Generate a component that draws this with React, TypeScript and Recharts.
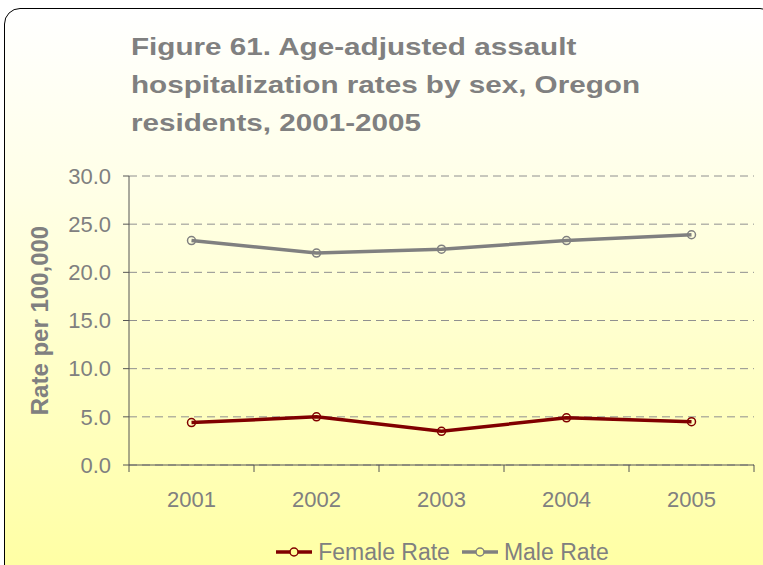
import React from "react";
import {
  CartesianGrid,
  Legend,
  Line,
  LineChart,
  XAxis,
  YAxis,
} from "recharts";

const years = ["2001", "2002", "2003", "2004", "2005"];
const femaleRate = [4.4, 5.0, 3.5, 4.9, 4.5];
const maleRate = [23.3, 22.0, 22.4, 23.3, 23.9];
const yTicks = [0, 5, 10, 15, 20, 25, 30];

const FEMALE = "#800000";
const MALE = "#808080";
const TEXT = "#808080";
const AXIS = "#555";
const FONT = "'Liberation Sans', Arial, sans-serif";

const data = years.map((year, i) => ({
  year,
  female: femaleRate[i],
  male: maleRate[i],
}));

// category tick: label in the middle of the band, tick marks on the band edges
function YearTick(props: any) {
  const { x, y, payload, index, visibleTicksCount } = props;
  const half = payload.offset || 0;
  const axisY = y - 8;
  return (
    <g>
      <line x1={x - half} y1={axisY} x2={x - half} y2={axisY + 7} stroke={AXIS} />
      {index === visibleTicksCount - 1 && (
        <line x1={x + half} y1={axisY} x2={x + half} y2={axisY + 7} stroke={AXIS} />
      )}
      <text
        x={x}
        y={y + 34}
        textAnchor="middle"
        fill={TEXT}
        fontSize={22}
        fontFamily={FONT}
      >
        {payload.value}
      </text>
    </g>
  );
}

function YLabel(props: any) {
  const { viewBox } = props;
  const cx = viewBox.x + 48;
  const cy = viewBox.y + viewBox.height / 2;
  return (
    <text
      x={cx}
      y={cy}
      transform={`rotate(-90, ${cx}, ${cy})`}
      textAnchor="middle"
      fill={TEXT}
      fontSize={24}
      fontWeight="bold"
      fontFamily={FONT}
    >
      Rate per 100,000
    </text>
  );
}

function LegendContent() {
  const items = [
    { name: "Female Rate", color: FEMALE },
    { name: "Male Rate", color: MALE },
  ];
  return (
    <div style={{ display: "flex", justifyContent: "center", gap: 10 }}>
      {items.map((it) => (
        <div key={it.name} style={{ display: "flex", alignItems: "center" }}>
          <svg width={40} height={14}>
            <line x1={2} y1={7} x2={38} y2={7} stroke={it.color} strokeWidth={3.5} />
            <circle cx={20} cy={7} r={4} fill="#ffff99" stroke={it.color} strokeWidth={1.5} />
          </svg>
          <span
            style={{
              fontFamily: FONT,
              fontSize: 23,
              color: TEXT,
              marginLeft: 4,
              lineHeight: "26px",
            }}
          >
            {it.name}
          </span>
        </div>
      ))}
    </div>
  );
}

export default function App() {
  return (
    <div
      style={{
        position: "fixed",
        left: 0,
        top: 0,
        width: 763,
        height: 565,
        overflow: "hidden",
        background: "#ffffff",
      }}
    >
      <div
        style={{
          position: "absolute",
          left: 4,
          top: 8,
          width: 770,
          height: 620,
          border: "1.5px solid #000",
          borderRadius: 16,
          background: "linear-gradient(to bottom, #ffffff 0%, #ffffe6 30%, #ffff99 100%)",
        }}
      />
      <div
        style={{
          position: "absolute",
          left: 131,
          top: 28,
          fontFamily: FONT,
          fontWeight: "bold",
          fontSize: 24.5,
          lineHeight: "38px",
          color: TEXT,
          transform: "scaleX(1.21)",
          transformOrigin: "left top",
          whiteSpace: "nowrap",
        }}
      >
        Figure 61. Age-adjusted assault
        <br />
        hospitalization rates by sex, Oregon
        <br />
        residents, 2001-2005
      </div>
      <div style={{ position: "absolute", left: 0, top: 0 }}>
        <LineChart
          width={763}
          height={565}
          data={data}
          margin={{ top: 176, right: 9, bottom: 0, left: 0 }}
        >
          <CartesianGrid
            vertical={false}
            stroke="#909090"
            strokeDasharray="8 5"
          />
          <XAxis
            dataKey="year"
            scale="band"
            stroke={AXIS}
            tickLine={false}
            tick={<YearTick />}
            height={74}
            interval={0}
          />
          <YAxis
            domain={[0, 30]}
            ticks={yTicks}
            width={129}
            stroke={AXIS}
            tickSize={6}
            tickMargin={12}
            tickFormatter={(v: number) => v.toFixed(1)}
            tick={{ fill: TEXT, fontSize: 22, fontFamily: FONT }}
            label={<YLabel />}
          />
          <Legend
            verticalAlign="bottom"
            height={26}
            wrapperStyle={{ left: 129, width: 625 }}
            content={<LegendContent />}
          />
          <Line
            dataKey="female"
            name="Female Rate"
            stroke={FEMALE}
            strokeWidth={3.5}
            dot={{ r: 4, fill: "none", stroke: FEMALE, strokeWidth: 1.5 }}
            isAnimationActive={false}
          />
          <Line
            dataKey="male"
            name="Male Rate"
            stroke={MALE}
            strokeWidth={3.5}
            dot={{ r: 4, fill: "none", stroke: MALE, strokeWidth: 1.5 }}
            isAnimationActive={false}
          />
        </LineChart>
      </div>
    </div>
  );
}
